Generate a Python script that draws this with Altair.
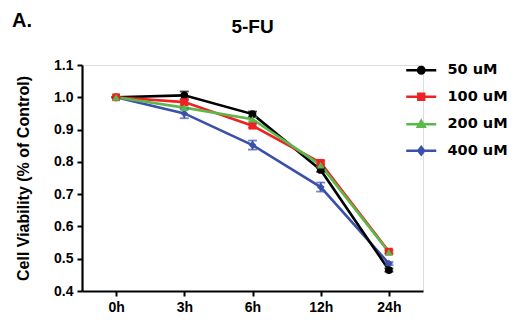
import altair as alt
import pandas as pd

times = ["0h", "3h", "6h", "12h", "24h"]
series = ["50 uM", "100 uM", "200 uM", "400 uM"]
colors = ["#000000", "#ee2222", "#5cb84a", "#3a50aa"]
shapes = ["circle", "square", "triangle-up", "diamond"]
y_ticks = [0.4, 0.5, 0.6, 0.7, 0.8, 0.9, 1.0, 1.1]

v50 = [1.000, 1.006, 0.948, 0.775, 0.465]
v100 = [1.000, 0.985, 0.912, 0.797, 0.522]
v200 = [1.000, 0.968, 0.932, 0.790, 0.520]
v400 = [1.000, 0.950, 0.852, 0.722, 0.485]

e50 = [0.0, 0.012, 0.008, 0.006, 0.005]
e100 = [0.0, 0.006, 0.006, 0.006, 0.005]
e200 = [0.0, 0.006, 0.006, 0.006, 0.005]
e400 = [0.0, 0.015, 0.014, 0.014, 0.005]

# drawing order: blue bottom, green on top
draw_order = ["400 uM", "50 uM", "100 uM", "200 uM"]
vals_map = {"50 uM": (v50, e50), "100 uM": (v100, e100), "200 uM": (v200, e200), "400 uM": (v400, e400)}
rows = []
for s in draw_order:
    vals, errs = vals_map[s]
    for t, v, e in zip(times, vals, errs):
        rows.append({"time": t, "series": s, "value": v, "lo": v - e, "hi": v + e})
df = pd.DataFrame(rows)

# legend glyphs: a short line with the marker on it (outline + inner outline so it reads solid)
legend_paths = [
    "M-3,0H3M-0.65,0A0.65,0.65 0 1,0 0.65,0A0.65,0.65 0 1,0 -0.65,0ZM-0.3,0A0.3,0.3 0 1,0 0.3,0A0.3,0.3 0 1,0 -0.3,0Z",
    "M-3,0H3M-0.6,-0.6H0.6V0.6H-0.6ZM-0.3,-0.3H0.3V0.3H-0.3Z",
    "M-3,0H3M0,-0.7L0.7,0.5L-0.7,0.5ZM0,-0.3L0.3,0.25L-0.3,0.25Z",
    "M-3,0H3M0,-0.75L0.6,0L0,0.75L-0.6,0ZM0,-0.35L0.28,0L0,0.35L-0.28,0Z",
]

x_axis = alt.Axis(labelAngle=0, labelFontSize=14, labelFontWeight="bold",
                  labelColor="black", tickSize=5, tickWidth=2, tickColor="black",
                  domainColor="black", domainWidth=2.2, labelPadding=4, grid=False)
y_axis = alt.Axis(values=y_ticks, format=".1f",
                  labelFontSize=14, labelFontWeight="bold", labelColor="black",
                  labelOverlap=False, labelFlush=False,
                  tickSize=5, tickWidth=2, tickColor="black", domainColor="black",
                  domainWidth=2.2, labelPadding=4, grid=False,
                  titleFontSize=16, titleFontWeight="bold", titleColor="black",
                  titlePadding=22)
y_scale = alt.Scale(domain=[0.4, 1.1], nice=False, zero=False)


def xe():
    return alt.X("time:N", sort=times, title=None,
                 scale=alt.Scale(type="point", padding=0.5), axis=x_axis)


def ye(field):
    return alt.Y(f"{field}:Q", title="Cell Viability (% of Control)", scale=y_scale,
                 axis=y_axis)


def color_plain():
    return alt.Color("series:N", sort=series,
                     scale=alt.Scale(domain=series, range=colors), legend=None)


base = alt.Chart(df)

lines = base.mark_line(strokeWidth=2.6).encode(
    x=xe(), y=ye("value"), color=color_plain(), detail="series:N")

err = base.mark_rule(strokeWidth=1.8).encode(
    x=xe(), y=ye("lo"), y2="hi:Q", color=color_plain())
cap_lo = base.mark_tick(thickness=1.8, size=9, orient="horizontal").encode(
    x=xe(), y=ye("lo"), color=color_plain())
cap_hi = base.mark_tick(thickness=1.8, size=9, orient="horizontal").encode(
    x=xe(), y=ye("hi"), color=color_plain())

points = base.mark_point(filled=True, size=60, opacity=1).encode(
    x=xe(), y=ye("value"), color=color_plain(),
    shape=alt.Shape("series:N", sort=series,
                    scale=alt.Scale(domain=series, range=shapes), legend=None))

leg_kw = dict(title=None, orient="none", legendX=332, legendY=-2,
              labelFontSize=14.5, labelFontWeight="bold", labelColor="black",
              labelFont="DejaVu Sans",
              symbolSize=100, symbolStrokeWidth=2.4, labelOffset=19, rowPadding=9.5,
              symbolOpacity=1)

legend_layer = base.transform_filter("false").mark_point(filled=False, opacity=1).encode(
    x=xe(), y=ye("value"),
    color=alt.Color("series:N", sort=series, scale=alt.Scale(domain=series, range=colors),
                    legend=alt.Legend(**leg_kw)),
    shape=alt.Shape("series:N", sort=series,
                    scale=alt.Scale(domain=series, range=legend_paths),
                    legend=alt.Legend(**leg_kw)))

label_a = alt.Chart(pd.DataFrame({"t": ["A."]})).mark_text(
    fontSize=20, fontWeight="bold", align="left", baseline="alphabetic", color="black"
).encode(text="t:N", x=alt.value(-70), y=alt.value(-38))

title_txt = alt.Chart(pd.DataFrame({"t": ["5-FU"]})).mark_text(
    fontSize=19, fontWeight="bold", align="center", baseline="alphabetic", color="black"
).encode(text="t:N", x=alt.value(170.5), y=alt.value(-32))

chart = alt.layer(lines, err, cap_lo, cap_hi, points, legend_layer, label_a,
                  title_txt).resolve_scale(
    shape="independent", color="independent"
).properties(
    width=341, height=226,
    autosize=alt.AutoSizeParams(type="none"),
    padding={"left": 82, "top": 65, "right": 95, "bottom": 37},
).configure_view(stroke=None).configure(font="Liberation Sans", background="white")

chart.save("out.html", embed_options={"renderer": "svg", "actions": False})
